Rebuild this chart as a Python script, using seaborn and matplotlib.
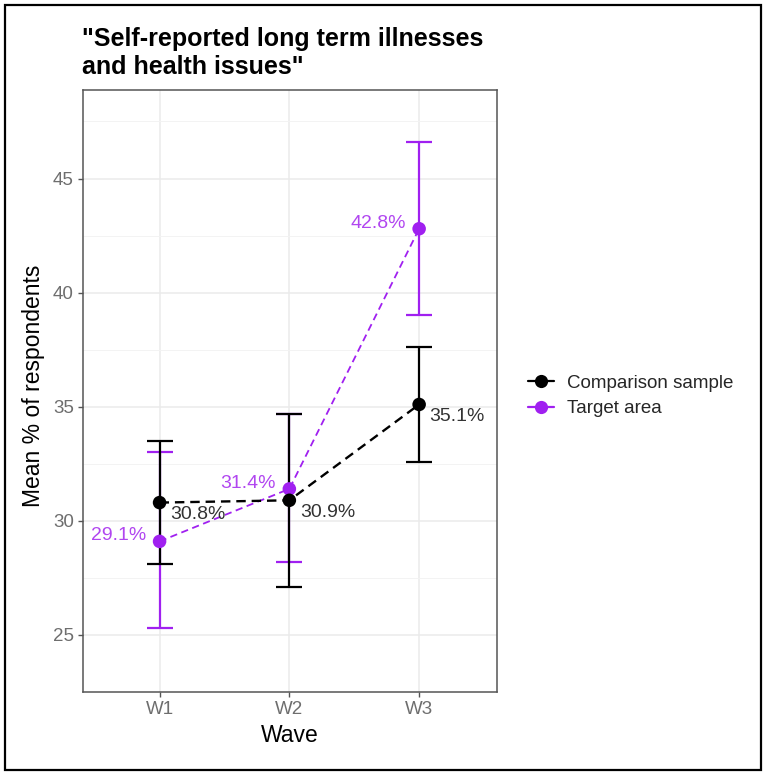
import numpy as np
import pandas as pd
import matplotlib
matplotlib.use("Agg")
import matplotlib.pyplot as plt
import seaborn as sns
from matplotlib.lines import Line2D
from matplotlib.patches import Rectangle

# ---- data ----
waves = ["W1", "W2", "W3"]
groups = ["Comparison sample", "Target area"]
comparison_mean = [30.8, 30.9, 35.1]
comparison_lower = [28.1, 27.1, 32.6]
comparison_upper = [33.5, 34.7, 37.6]
target_mean = [29.1, 31.4, 42.8]
target_lower = [25.3, 28.2, 39.0]
target_upper = [33.0, 34.7, 46.6]
title = '"Self-reported long term illnesses\nand health issues"'

colors = {"Comparison sample": "#000000", "Target area": "#A020F0"}
label_colors = {"Comparison sample": "#333333", "Target area": "#B146F0"}

rows = []
for g, m, lo, up in [("Target area", target_mean, target_lower, target_upper),
                     ("Comparison sample", comparison_mean, comparison_lower, comparison_upper)]:
    for w, a, b, c in zip(waves, m, lo, up):
        rows.append({"wave": w, "group": g, "mean": a, "lower": b, "upper": c})
df = pd.DataFrame(rows)

sns.set_theme(style="white")
plt.rcParams["font.family"] = ["Liberation Sans", "DejaVu Sans"]

fig = plt.figure(figsize=(7.66, 7.75), dpi=100)
ax = fig.add_axes([83 / 766, 1 - 692 / 775, (497 - 83) / 766, (692 - 90) / 775])

# error bars (target first, comparison on top)
for g in ["Target area", "Comparison sample"]:
    d = df[df["group"] == g]
    ax.errorbar(list(d["wave"]), d["mean"],
                yerr=[d["mean"] - d["lower"], d["upper"] - d["mean"]],
                fmt="none", ecolor=colors[g], elinewidth=1.6, capsize=9.4,
                capthick=1.6, zorder=3)

# dashed connecting lines
for g, lw in [("Target area", 1.3), ("Comparison sample", 1.7)]:
    d = df[df["group"] == g]
    sns.lineplot(data=d, x="wave", y="mean", color=colors[g], lw=lw,
                 linestyle=(0, (4, 2.5)), sort=False, legend=False, ax=ax, zorder=4)

# points
sns.scatterplot(data=df, x="wave", y="mean", hue="group", palette=colors,
                s=95, edgecolor="none", linewidth=0, legend=False, ax=ax, zorder=5)

# labels
for _, r in df.iterrows():
    txt = f"{r['mean']:.1f}%"
    if r["group"] == "Comparison sample":
        ax.annotate(txt, (r["wave"], r["mean"]), xytext=(7.5, -8.5),
                    textcoords="offset points", ha="left", va="center",
                    fontsize=14, color=label_colors[r["group"]], zorder=6)
    else:
        ax.annotate(txt, (r["wave"], r["mean"]), xytext=(-9.5, 4),
                    textcoords="offset points", ha="right", va="center",
                    fontsize=14, color=label_colors[r["group"]], zorder=6)

# axes styling
ax.set_xlim(-0.59, 2.6)
ax.set_ylim(23.15, 48.88)
ax.set_yticks([25, 30, 35, 40, 45])
ax.set_yticks([22.5, 27.5, 32.5, 37.5, 42.5, 47.5], minor=True)
ax.grid(True, which="major", color="#EBEBEB", lw=1.1, zorder=0)
ax.grid(True, which="minor", axis="y", color="#F3F3F3", lw=0.7, zorder=0)
ax.set_axisbelow(True)
for s in ax.spines.values():
    s.set_color("#555555")
    s.set_linewidth(1.1)
ax.tick_params(axis="both", which="major", length=3.5, width=1, color="#555555",
               labelsize=13.5, labelcolor="#6E6E6E", pad=3, left=True, bottom=True)
ax.tick_params(axis="y", which="minor", length=0)
ax.set_xlabel("Wave", fontsize=16.5, color="black", labelpad=4)
ax.set_ylabel("")
fig.text(34 / 766, 1 - 386 / 775, "Mean % of respondents", rotation=90,
         ha="center", va="center", fontsize=16.5, color="black")

fig.text(82 / 766, 1 - 27 / 775, title, ha="left", va="top", fontsize=18,
         fontweight="bold", color="black", linespacing=1.2)

handles = [Line2D([0], [0], marker="o", color=colors[g], lw=1.6, markersize=9.5,
                  markeredgewidth=0) for g in groups]
fig.legend(handles, groups, loc="center left", bbox_to_anchor=(520 / 766, 1 - 396 / 775),
           frameon=False, fontsize=13.5, handlelength=1.4, handletextpad=0.7,
           labelspacing=0.45, borderaxespad=0)

fig.patches.append(Rectangle((5 / 766, 5 / 775), (761 - 5) / 766, (770 - 5) / 775,
                             transform=fig.transFigure, fill=False, ec="black", lw=1.6))

fig.savefig("out.png", dpi=100, facecolor="white")
